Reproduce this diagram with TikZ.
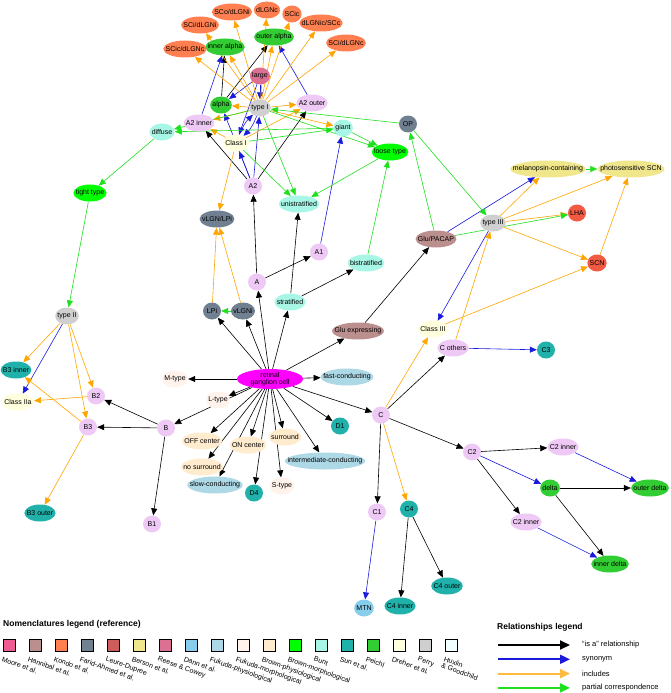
\documentclass[tikz,border=0pt]{standalone}
\usepackage{fontspec}
\setmainfont{Liberation Sans}
\usepackage{tikz}
\usetikzlibrary{
    arrows.meta,
    shapes.geometric,
    backgrounds
}
% nomenclature colours
\definecolor{MooreCol}{HTML}{EE5C93}
\definecolor{HannibalCol}{HTML}{BC8F8F}
\definecolor{KondoCol}{HTML}{FF7F50}
\definecolor{FaridCol}{HTML}{708090}
\definecolor{LeureCol}{HTML}{CD5C5C}
\definecolor{BersonCol}{HTML}{F0E68C}
\definecolor{ReeseCol}{HTML}{DB7093}
\definecolor{DannCol}{HTML}{87CEEB}
\definecolor{FukPhysCol}{HTML}{ADD8E6}
\definecolor{FukMorphCol}{HTML}{FFF3EC}
\definecolor{BrownPhysCol}{HTML}{FFEBCD}
\definecolor{BrownMorphCol}{HTML}{00FF00}
\definecolor{BuntCol}{HTML}{A8F7E6}
\definecolor{SunCol}{HTML}{20B2AA}
\definecolor{PeichlCol}{HTML}{32CD32}
\definecolor{DreherCol}{HTML}{FFFFDD}
\definecolor{PerryCol}{HTML}{CFCFCF}
\definecolor{HuxlinCol}{HTML}{F0FFFF}
\definecolor{LetterCol}{HTML}{EEC9F5}
\definecolor{NucleusCol}{HTML}{F25A44}
\definecolor{RgcCol}{HTML}{FF00FF}
% relationship colours
\definecolor{SynCol}{HTML}{1A1ADD}
\definecolor{IncCol}{HTML}{FFA500}
\definecolor{PartCol}{HTML}{1EE01E}
\newsavebox{\cellbox}
\newcommand{\cellfont}{\fontsize{7}{8}\selectfont}

\begin{document}
\begin{tikzpicture}[
    x=1pt,
    y=-1pt,
    cell/.style={
        ellipse,
        inner xsep=1.5pt,
        inner ysep=0pt,
        minimum width=18pt,
        minimum height=17pt,
        font=\cellfont,
        execute at begin node={\setbox\cellbox\hbox\bgroup},
        execute at end node={\egroup\makebox[0.72\wd\cellbox]{\usebox\cellbox}}
    },
    rel/.style={
        line width=0.6pt,
        -{Triangle[length=7pt,width=6pt]}
    },
    isa/.style={rel, draw=black},
    syn/.style={rel, draw=SynCol},
    inc/.style={rel, draw=IncCol},
    part/.style={rel, draw=PartCol},
    bigrel/.style={
        line width=1.8pt,
        -{Triangle[length=10pt,width=9pt]}
    },
    swatch/.style={
        draw=black,
        line width=1pt,
        minimum size=12pt,
        inner sep=0pt
    },
    swatchlabel/.style={
        anchor=north west,
        rotate=-20,
        inner sep=0pt,
        align=left,
        font=\fontsize{7}{7}\selectfont
    },
    legendtitle/.style={
        anchor=west,
        inner sep=0pt,
        font=\fontsize{8.5}{10}\selectfont\bfseries
    }
]
\useasboundingbox (0,0) rectangle (670,693);
%
% retinal ganglion cell and its properties
\node[
    ellipse,
    fill=RgcCol,
    inner sep=0pt,
    minimum width=66pt,
    minimum height=20pt,
    align=center,
    font=\fontsize{7}{7.5}\selectfont
] (rgc) at (270,379) {retinal\\ganglion cell};
\node[cell, fill=FukMorphCol] (mtype) at (175,379) {M-type};
\node[cell, fill=FukMorphCol] (ltype) at (218,400) {L-type};
\node[cell, fill=FukMorphCol] (stype) at (282,486) {S-type};
\node[cell, fill=BrownPhysCol] (offc) at (202,441) {OFF center};
\node[cell, fill=BrownPhysCol] (onc) at (248,445) {ON center};
\node[cell, fill=BrownPhysCol] (surr) at (285,437) {surround};
\node[cell, fill=BrownPhysCol] (nosurr) at (202,467) {no surround};
\node[cell, fill=FukPhysCol] (fastc) at (347,377) {fast-conducting};
\node[cell, fill=FukPhysCol] (interc) at (325,461) {intermediate-conducting};
\node[cell, fill=FukPhysCol] (slowc) at (215,485) {slow-conducting};
\node[cell, fill=SunCol] (d1) at (340,426) {D1};
\node[cell, fill=SunCol] (d4) at (254,493) {D4};
%
% A branch
\node[cell, fill=LetterCol] (a) at (257,282) {A};
\node[cell, fill=LetterCol] (a1) at (319,252) {A1};
\node[cell, fill=LetterCol] (a2) at (253,186) {A2};
\node[cell, fill=LetterCol] (a2in) at (199,123) {A2 inner};
\node[cell, fill=LetterCol] (a2out) at (312,103) {A2 outer};
\node[cell, fill=BuntCol] (strat) at (290,302) {stratified};
\node[cell, fill=BuntCol] (unistrat) at (299,204) {unistratified};
\node[cell, fill=BuntCol] (bistrat) at (366,263) {bistratified};
\node[cell, fill=BuntCol] (diffuse) at (162,132) {diffuse};
\node[cell, fill=BuntCol] (giant) at (343,128) {giant};
\node[cell, fill=BrownMorphCol] (loose) at (390,152) {loose type};
\node[cell, fill=BrownMorphCol] (tight) at (90,193) {tight type};
\node[cell, fill=FaridCol] (vlgni) at (243,311) {vLGNi};
\node[cell, fill=FaridCol] (lpi) at (212,311) {LPi};
\node[cell, fill=FaridCol] (vlgnlpi) at (217,219) {vLGN/LPi};
\node[cell, fill=FaridCol] (op) at (408,124) {OP};
\node[cell, fill=PerryCol] (typeI) at (260,108) {type I};
\node[cell, fill=PerryCol] (typeII) at (67,316) {type II};
\node[cell, fill=PerryCol] (typeIII) at (493,223) {type III};
\node[cell, fill=DreherCol] (classI) at (236,143) {Class I};
\node[cell, fill=DreherCol] (classIIa) at (18,402) {Class IIa};
\node[cell, fill=DreherCol] (classIII) at (433,329) {Class III};
\node[cell, fill=ReeseCol] (large) at (260,76) {large};
\node[cell, fill=PeichlCol] (alpha) at (221,105) {alpha};
\node[cell, fill=PeichlCol] (ialpha) at (225,47) {inner alpha};
\node[cell, fill=PeichlCol] (oalpha) at (274,37) {outer alpha};
%
% projection targets
\node[cell, fill=KondoCol] (scodlgni) at (232,12) {SCo/dLGNi};
\node[cell, fill=KondoCol] (dlgnc) at (267,10) {dLGNc};
\node[cell, fill=KondoCol] (scic) at (292,14) {SCic};
\node[cell, fill=KondoCol] (dlgnicscc) at (321,23) {dLGNic/SCc};
\node[cell, fill=KondoCol] (scidlgni) at (200,25) {SCi/dLGNi};
\node[cell, fill=KondoCol] (scidlgnc) at (346,43) {SCi/dLGNc};
\node[cell, fill=KondoCol] (scicdlgnc) at (185,49) {SCic/dLGNc};
\node[cell, fill=HannibalCol] (glu) at (358,331) {Glu expressing};
\node[cell, fill=HannibalCol] (glupacap) at (436,239) {Glu/PACAP};
\node[cell, fill=BersonCol] (melan) at (548,169) {melanopsin-containing};
\node[cell, fill=BersonCol] (psscn) at (631,169) {photosensitive SCN};
\node[cell, fill=NucleusCol] (lha) at (577,213) {LHA};
\node[cell, fill=NucleusCol] (scn) at (597,263) {SCN};
%
% B branch
\node[cell, fill=LetterCol] (b) at (166,428) {B};
\node[cell, fill=LetterCol] (b1) at (152,524) {B1};
\node[cell, fill=LetterCol] (b2) at (96,396) {B2};
\node[cell, fill=LetterCol] (b3) at (88,427) {B3};
\node[cell, fill=SunCol] (b3in) at (16,370) {B3 inner};
\node[cell, fill=SunCol] (b3out) at (40,513) {B3 outer};
%
% C branch
\node[cell, fill=LetterCol] (c) at (381,415) {C};
\node[cell, fill=LetterCol] (cothers) at (453,348) {C others};
\node[cell, fill=SunCol] (c3) at (546,350) {C3};
\node[cell, fill=LetterCol] (c1) at (377,512) {C1};
\node[cell, fill=DannCol] (mtn) at (364,608) {MTN};
\node[cell, fill=SunCol] (c4) at (409,509) {C4};
\node[cell, fill=SunCol] (c4in) at (400,606) {C4 inner};
\node[cell, fill=SunCol] (c4out) at (447,586) {C4 outer};
\node[cell, fill=LetterCol] (c2) at (472,452) {C2};
\node[cell, fill=LetterCol] (c2inA) at (563,447) {C2 inner};
\node[cell, fill=LetterCol] (c2inB) at (526,522) {C2 inner};
\node[cell, fill=PeichlCol] (delta) at (550,488) {delta};
\node[cell, fill=PeichlCol] (odelta) at (650,488) {outer delta};
\node[cell, fill=PeichlCol] (idelta) at (610,564) {inner delta};
%
\begin{scope}[on background layer]
% "is a"
\foreach \s/\t in {
    rgc/mtype, rgc/ltype, rgc/b, rgc/offc, rgc/nosurr, rgc/slowc,
    rgc/onc, rgc/d4, rgc/stype, rgc/surr, rgc/interc, rgc/d1,
    rgc/c, rgc/fastc, rgc/glu, rgc/strat, rgc/a, rgc/vlgni, rgc/lpi,
    b/b1, b/b2, b/b3,
    c/cothers, c/c1, c/c2, c2/c2inA, c2/c2inB,
    delta/odelta, delta/idelta, c4/c4in, c4/c4out,
    a/a2, a/a1, strat/unistrat, strat/bistrat, glu/glupacap,
    a2/a2in, a2/a2out, alpha/ialpha, alpha/oalpha}{
    \draw[isa] (\s) -- (\t);
}
% synonym
\foreach \s/\t in {
    typeII/classIIa, c1/mtn, c2/delta, c2inA/odelta, c2inB/idelta,
    cothers/c3, typeIII/classIII, glupacap/melan, a1/giant,
    a2/typeI, a2/classI, a2/alpha, large/alpha, large/typeI,
    large/classI, a2in/ialpha, a2out/oalpha}{
    \draw[syn] (\s) -- (\t);
}
\draw[syn] (typeI) to[bend left=12] (classI);
\draw[syn] (classI) to[bend left=12] (typeI);
% includes
\foreach \s/\t in {
    typeI/scodlgni, typeI/dlgnc, typeI/scic, typeI/dlgnicscc,
    typeI/scidlgni, typeI/scidlgnc, typeI/scicdlgnc,
    typeI/ialpha, typeI/oalpha, typeI/alpha, typeI/a2in, typeI/a2out,
    typeI/giant, classI/a2in, classI/a2out, classI/vlgnlpi,
    lpi/vlgnlpi, vlgni/vlgnlpi,
    typeIII/melan, typeIII/psscn, typeIII/lha, typeIII/scn, scn/psscn,
    classIII/scn, cothers/typeIII, c/classIII, c/c4,
    typeII/b3in, typeII/b2, typeII/b3, b2/classIIa, b3/b3in, b3/b3out}{
    \draw[inc] (\s) -- (\t);
}
% partial correspondence
\foreach \s/\t in {
    op/typeI, op/typeIII, glupacap/op, glupacap/lha, melan/psscn,
    bistrat/loose, loose/unistrat, giant/loose, typeI/loose,
    typeI/unistrat, classI/unistrat, typeI/diffuse, giant/diffuse,
    classI/giant, diffuse/tight, tight/typeII, vlgni/lpi}{
    \draw[part] (\s) -- (\t);
}
\end{scope}
%
% nomenclatures legend
\node[legendtitle] (nomtitle) at (3,624) {Nomenclatures legend (reference)};
\foreach \col/\name [count=\i from 0] in {
    MooreCol/Moore et al.,
    HannibalCol/Hannibal et al.,
    KondoCol/Kondo et al.,
    FaridCol/Farid-Ahmed et al.,
    LeureCol/Leure-Dupree,
    BersonCol/Berson et al.,
    ReeseCol/Reese \& Cowey,
    DannCol/Dann et al.,
    FukPhysCol/Fukuda-physiological,
    FukMorphCol/Fukuda-morphological,
    BrownPhysCol/Brown-physiological,
    BrownMorphCol/Brown-morphological,
    BuntCol/Bunt,
    SunCol/Sun et al.,
    PeichlCol/Peichl,
    DreherCol/Dreher et al.,
    PerryCol/Perry,
    HuxlinCol/Huxlin\\\& Goodchild}{
    \node[swatch, fill=\col] (sw\i) at ({9+26*\i},645) {};
    \node[swatchlabel] (swl\i) at ({3+26*\i},656) {\name};
}
%
% relationships legend
\node[legendtitle] (reltitle) at (497,627) {Relationships legend};
\foreach \sty/\txt [count=\j from 0] in {
    black/``is a'' relationship,
    SynCol/synonym,
    IncCol!75!white/includes,
    PartCol/partial correspondence}{
    \coordinate (rs\j) at (498,{645+14.3*\j});
    \coordinate (re\j) at (570,{645+14.3*\j});
    \draw[bigrel, draw=\sty, fill=\sty] (rs\j) -- (re\j);
    \node[anchor=west, inner sep=0pt, font=\fontsize{7.5}{8}\selectfont]
        (rl\j) at (582,{645+14.3*\j}) {\txt};
}
%
\end{tikzpicture}
\end{document}
